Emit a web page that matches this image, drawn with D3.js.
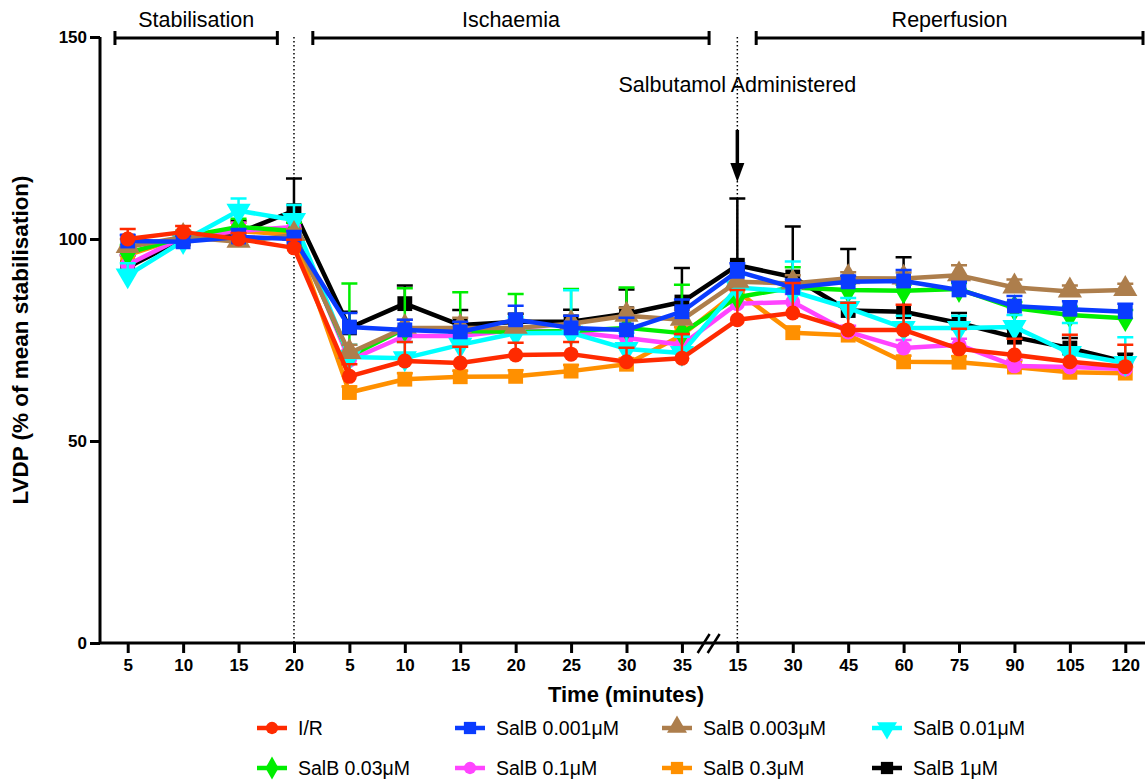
<!DOCTYPE html>
<html>
<head>
<meta charset="utf-8">
<script src="https://cdn.jsdelivr.net/npm/d3@7"></script>
<style>
	html, body { margin: 0; padding: 0; background: #fff; }
	svg { display: block; font-family: "Liberation Sans", Arial, sans-serif; }
</style>
</head>
<body>
<svg id="chart" width="1145" height="780"></svg>
<script>
(function (d3) {
	"use strict";

	/***** Data *****/

	// x categories (time in minutes, per phase)
	var categories = ["5", "10", "15", "20", "5", "10", "15", "20", "25", "30", "35",
		"15", "30", "45", "60", "75", "90", "105", "120"];

	var seriesNames = ["I/R", "SalB 0.001\u03bcM", "SalB 0.003\u03bcM", "SalB 0.01\u03bcM",
		"SalB 0.03\u03bcM", "SalB 0.1\u03bcM", "SalB 0.3\u03bcM", "SalB 1\u03bcM"];

	// means (% of mean stabilisation)
	var meanIR    = [100, 101.7, 100, 97.8, 66, 69.8, 69.3, 71.3, 71.5, 69.6, 70.5, 80, 81.7, 77.5, 77.5, 72.8, 71.3, 69.6, 68.4];
	var mean0001  = [99.5, 99.3, 100.5, 100, 78.2, 77.5, 77, 80, 78, 77.5, 82, 92, 88, 89.4, 89.6, 87.4, 83.4, 82.6, 82];
	var mean0003  = [98, 100.5, 99.3, 101, 71.8, 78, 78, 78, 79, 81, 80, 89.4, 89, 90.3, 90.2, 91, 88, 87, 87.4];
	var mean001   = [91, 99.5, 107, 104.7, 70.8, 70.5, 73.8, 76.7, 76.8, 72.8, 71.8, 88, 87, 82.9, 78, 78, 78.2, 71.8, 69.3];
	var mean003   = [96.5, 100.5, 103, 102, 71, 77.8, 77.2, 77, 77.2, 78, 76.7, 85.6, 88, 87.4, 87.2, 87.6, 82.9, 81.2, 80.4];
	var mean01    = [93.6, 100.5, 102, 103, 70, 76, 76, 77.5, 77, 75.5, 73.8, 84, 84.4, 77, 73, 73.8, 68.6, 68.3, 67.8];
	var mean03    = [96, 100.5, 102, 101, 62, 65.3, 65.9, 66, 67.3, 69, 76.2, 87, 76.8, 76.2, 69.6, 69.5, 68.3, 67, 66.8];
	var mean1     = [93, 100, 101.5, 107, 78, 84, 78.7, 79.5, 79.5, 81.5, 84.4, 93.5, 90.6, 82.3, 82, 79.2, 75.7, 73, 69.6];

	// SEM (drawn above the mean only)
	var semIR     = [2.5, 1.5, 1.5, 2, 3, 4.7, 4, 3, 3, 3.5, 6, 7.4, 7.4, 6.7, 6.2, 5, 4, 6.7, 5.4];
	var sem0001   = [1.5, 1.5, 2, 2, 3.5, 2.5, 2.5, 3.5, 3, 3, 3, 2, 2, 1.5, 2.7, 2, 2.5, 2, 2];
	var sem0003   = [2, 1.5, 2, 1.5, 2, 2, 2.5, 2, 2, 2, 2.5, 2, 2, 1.5, 1.5, 2.5, 2, 1.5, 1.5];
	var sem001    = [3, 1.5, 3, 3.7, 3, 4, 3.5, 4, 10.5, 4, 4, 3, 7.4, 2.5, 3, 3, 3, 7.4, 6.4];
	var sem003    = [2, 1.5, 2, 2, 18, 10, 9.6, 9.4, 10.4, 10, 12, 2, 5, 1.5, 1.5, 1.5, 1.5, 2, 2];
	var sem01     = [2.5, 1.5, 2, 2, 2.5, 2, 2, 2, 2, 2, 2.5, 2, 2, 1.5, 2, 1.5, 1.5, 1.5, 1.5];
	var sem03     = [2, 1.5, 2, 1.5, 1.5, 1.5, 1.5, 1.5, 1.5, 1.5, 2, 2, 1.5, 1.5, 1.5, 1.5, 1.5, 1.5, 1.5];
	var sem1      = [3, 1.5, 3, 8, 4, 4.5, 3.7, 2, 3, 6, 8.4, 16.5, 12.5, 15.2, 13.5, 2.5, 2, 2.5, 2];

	var yTicks = [0, 50, 100, 150];

	// phases (start / end in category index units)
	var phaseNames = ["Stabilisation", "Ischaemia", "Reperfusion"];
	var phaseStart = [-0.23, 3.34, 11.34];
	var phaseEnd   = [2.7, 10.49, 18.32];

	/***** Styles *****/
	var colors = ["#ff2a00", "#0a3cff", "#ad7e4c", "#00ffff", "#00ee00", "#ff44ff", "#ff9000", "#000000"];
	var shapes = ["circle", "square", "triangle", "triangleDown", "diamond", "circle", "square", "square"];

	var series = seriesNames.map(function (name, i) {
		var means = [meanIR, mean0001, mean0003, mean001, mean003, mean01, mean03, mean1][i];
		var sems = [semIR, sem0001, sem0003, sem001, sem003, sem01, sem03, sem1][i];
		return {
			name: name, color: colors[i], shape: shapes[i],
			values: means.map(function (m, j) { return { i: j, mean: m, sem: sems[j] }; })
		};
	});

	/***** Scales *****/
	var svg = d3.select("#chart");
	var x = d3.scaleLinear().domain([-0.5, 18.5]).range([100, 1153]);
	var y = d3.scaleLinear().domain([0, 150]).range([643, 37]);

	function symbolPath(shape, size) {
		var type = {
			circle: d3.symbolCircle, square: d3.symbolSquare, triangle: d3.symbolTriangle,
			triangleDown: d3.symbolTriangle, diamond: d3.symbolDiamond
		}[shape];
		var s = size;
		if (shape === "circle") s = size * 0.8;
		if (shape === "triangle" || shape === "triangleDown") s = size * 1.15;
		return d3.symbol().type(type).size(s)();
	}
	function symbolTransform(shape, px, py) {
		var t = "translate(" + px + "," + py + ")";
		if (shape === "triangleDown") t += " rotate(180)";
		if (shape === "triangle") t += " translate(0,-1)";
		return t;
	}

	/***** Reference lines (dotted) *****/
	[3, 11].forEach(function (idx) {
		svg.append("line")
			.attr("x1", x(idx)).attr("x2", x(idx))
			.attr("y1", y(150)).attr("y2", y(0))
			.attr("stroke", "#000").attr("stroke-width", 1.5)
			.attr("stroke-dasharray", "1.5,2.5");
	});

	/***** Series (bottom to top) *****/
	var line = d3.line()
		.x(function (d) { return x(d.i); })
		.y(function (d) { return y(d.mean); });

	var order = [7, 6, 5, 4, 3, 2, 1, 0];
	order.forEach(function (k) {
		var s = series[k];
		var g = svg.append("g");

		// error bars (above only)
		g.selectAll(".err").data(s.values).enter().append("path")
			.attr("d", function (d) {
				var cx = x(d.i), y1 = y(d.mean + d.sem), y2 = y(d.mean);
				return "M" + cx + "," + y1 + "V" + y2 +
					"M" + (cx - 8) + "," + y1 + "H" + (cx + 8);
			})
			.attr("stroke", s.color).attr("stroke-width", 2.5).attr("fill", "none");

		g.append("path").datum(s.values)
			.attr("d", line)
			.attr("fill", "none").attr("stroke", s.color)
			.attr("stroke-width", 4.5).attr("stroke-linejoin", "round");

		g.selectAll(".pt").data(s.values).enter().append("path")
			.attr("d", symbolPath(s.shape, 220))
			.attr("transform", function (d) { return symbolTransform(s.shape, x(d.i), y(d.mean)); })
			.attr("fill", s.color);
	});

	/***** Axes *****/
	var yAxis = svg.append("g").attr("transform", "translate(100,0)")
		.call(d3.axisLeft(y).tickValues(yTicks).tickSize(10).tickPadding(3));
	var xAxis = svg.append("g").attr("transform", "translate(0,643)")
		.call(d3.axisBottom(x).tickValues(d3.range(categories.length))
			.tickFormat(function (i) { return categories[i]; })
			.tickSize(10).tickPadding(6).tickSizeOuter(0));

	[yAxis, xAxis].forEach(function (a) {
		a.select(".domain").attr("stroke-width", 3);
		a.selectAll(".tick line").attr("stroke-width", 3);
		a.selectAll(".tick text")
			.attr("font-family", "'Liberation Sans', Arial, sans-serif")
			.attr("font-size", 17).attr("font-weight", "bold").attr("fill", "#000");
	});
	yAxis.select(".domain").attr("d", "M0," + y(150) + "V" + y(0));
	xAxis.select(".domain").attr("d", "M100,0H1145");

	// axis break marks between 35 and 15
	[-6, 4].forEach(function (off) {
		var bx = (x(10) + x(11)) / 2 + off;
		svg.append("line")
			.attr("x1", bx - 6).attr("y1", 653).attr("x2", bx + 6).attr("y2", 634)
			.attr("stroke", "#000").attr("stroke-width", 2.5);
	});

	/***** Axis titles *****/
	svg.append("text")
		.attr("x", 626).attr("y", 702)
		.attr("text-anchor", "middle")
		.attr("font-size", 22).attr("font-weight", "bold")
		.text("Time (minutes)");

	svg.append("text")
		.attr("transform", "translate(28," + 340 + ") rotate(-90)")
		.attr("text-anchor", "middle")
		.attr("font-size", 22.5).attr("font-weight", "bold")
		.text("LVDP (% of mean stabilisation)");

	/***** Phase brackets *****/
	phaseNames.forEach(function (name, i) {
		var x1 = x(phaseStart[i]), x2 = Math.min(x(phaseEnd[i]), 1143);
		svg.append("path")
			.attr("d", "M" + x1 + ",38H" + x2 + "M" + x1 + ",31V45M" + x2 + ",31V45")
			.attr("stroke", "#000").attr("stroke-width", 3).attr("fill", "none");
		svg.append("text")
			.attr("x", (x1 + x2) / 2).attr("y", 27)
			.attr("text-anchor", "middle").attr("font-size", 21.5)
			.text(name);
	});

	/***** Annotation *****/
	svg.append("text")
		.attr("x", x(11)).attr("y", 92)
		.attr("text-anchor", "middle").attr("font-size", 21.5)
		.text("Salbutamol Administered");
	svg.append("line")
		.attr("x1", x(11)).attr("x2", x(11)).attr("y1", 130).attr("y2", 166)
		.attr("stroke", "#000").attr("stroke-width", 3.5);
	svg.append("path")
		.attr("d", "M" + (x(11) - 7) + ",163L" + (x(11) + 7) + ",163L" + x(11) + ",182Z")
		.attr("fill", "#000");

	/***** Legend *****/
	var legendX = [272, 470, 677, 887];
	var legendY = [728, 768];
	series.forEach(function (s, i) {
		var lx = legendX[i % 4], ly = legendY[Math.floor(i / 4)];
		var g = svg.append("g");
		g.append("line")
			.attr("x1", lx - 15).attr("x2", lx + 15).attr("y1", ly).attr("y2", ly)
			.attr("stroke", s.color).attr("stroke-width", 4.5);
		g.append("path")
			.attr("d", symbolPath(s.shape, 150))
			.attr("transform", symbolTransform(s.shape, lx, ly))
			.attr("fill", s.color);
		g.append("text")
			.attr("x", lx + 26).attr("y", ly + 7)
			.attr("font-size", 19.5)
			.text(s.name);
	});

})(d3);
</script>
</body>
</html>
